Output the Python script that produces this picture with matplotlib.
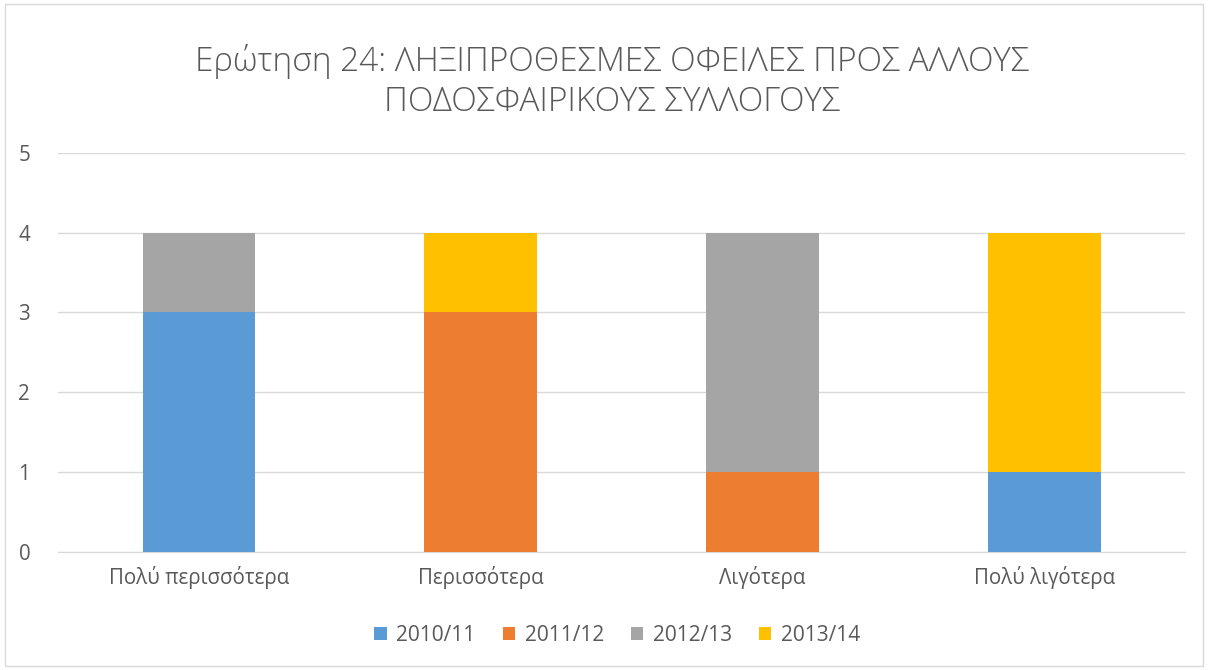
import matplotlib.pyplot as plt
import numpy as np
from matplotlib.patches import Rectangle

plt.rcParams['font.family'] = ['Open Sans', 'DejaVu Sans']

categories = ['Πολύ περισσότερα', 'Περισσότερα', 'Λιγότερα', 'Πολύ λιγότερα']
seasons = ['2010/11', '2011/12', '2012/13', '2013/14']
values = {
    '2010/11': [3, 0, 0, 1],
    '2011/12': [0, 3, 1, 0],
    '2012/13': [1, 0, 3, 0],
    '2013/14': [0, 1, 0, 3],
}
colors = ['#5B9BD5', '#ED7D31', '#A5A5A5', '#FFC000']

fig = plt.figure(figsize=(12.08, 6.7), dpi=100)
ax = fig.add_axes([0.048, 0.176, 0.933, 0.596])

x = np.arange(len(categories))
bottom = np.zeros(len(categories))
for s, c in zip(seasons, colors):
    v = np.array(values[s], dtype=float)
    ax.bar(x, v, bottom=bottom, width=0.4, color=c, label=s, zorder=3)
    bottom += v

ax.set_xlim(-0.5, 3.5)
ax.set_ylim(0, 5)
ax.set_yticks(range(6))
ax.set_xticks(x)
ax.set_xticklabels(categories)
ax.tick_params(axis='both', length=0, labelsize=14.8, colors='#595959')
ax.tick_params(axis='x', pad=10)
ax.tick_params(axis='y', pad=20)
ax.grid(axis='y', color='#D9D9D9', lw=1, zorder=0)
for side in ['top', 'right', 'left']:
    ax.spines[side].set_visible(False)
ax.spines['bottom'].set_color('#D9D9D9')

fig.text(0.507, 0.878, 'Ερώτηση 24: ΛΗΞΙΠΡΟΘΕΣΜΕΣ ΟΦΕΙΛΕΣ ΠΡΟΣ ΑΛΛΟΥΣ\nΠΟΔΟΣΦΑΙΡΙΚΟΥΣ ΣΥΛΛΟΓΟΥΣ',
         ha='center', va='center', fontsize=24, fontweight='light', color='#595959',
         linespacing=1.25)

leg = fig.legend(loc='center', bbox_to_anchor=(0.511, 0.052), ncol=4, frameon=False,
                 fontsize=15, handlelength=0.6, handleheight=0.6, columnspacing=1.3,
                 handletextpad=0.45)
for t in leg.get_texts():
    t.set_color('#595959')

fig.patches.append(Rectangle((0.004, 0.006), 0.992, 0.988, transform=fig.transFigure,
                             fill=False, edgecolor='#D9D9D9', lw=1))

fig.savefig('out.png', dpi=100)
